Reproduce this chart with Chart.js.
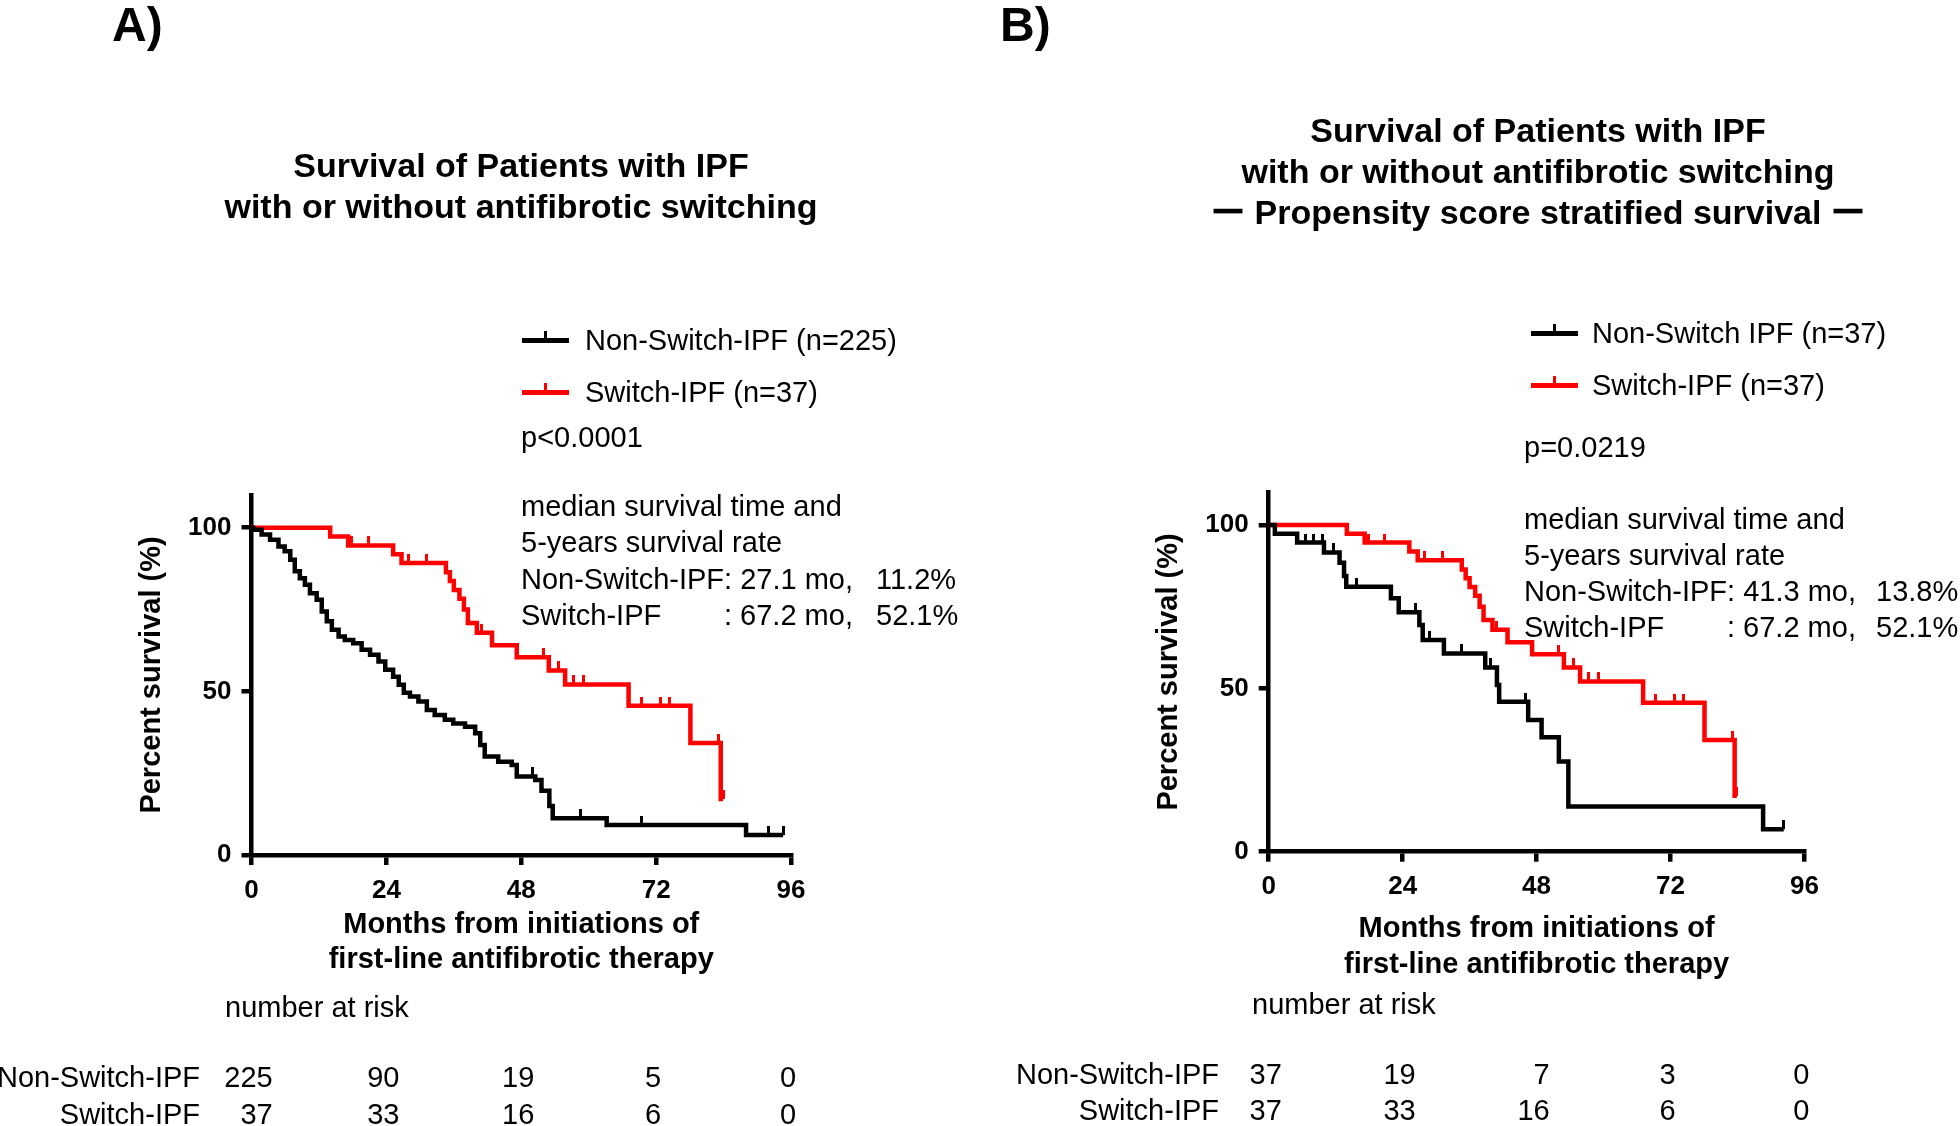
<!DOCTYPE html>
<html><head><meta charset="utf-8">
<script src="https://cdn.jsdelivr.net/npm/chart.js@4.4.1/dist/chart.umd.min.js"></script>
<style>
html,body{margin:0;padding:0;background:#fff;}
#root{position:relative;width:1960px;height:1126px;overflow:hidden;font-family:"Liberation Sans",Arial,Helvetica,sans-serif;color:#000;background:#fff;}
canvas{position:absolute;top:0;}
.t{position:absolute;white-space:pre;line-height:1.2;}
</style></head><body><div id="root">
<canvas id="cA" width="980" height="1126" style="left:0px"></canvas>
<canvas id="cB" width="980" height="1126" style="left:980px"></canvas>
</div>
<script>
// ---------- DATA ----------
const monthTicks = [0, 24, 48, 72, 96];

// Panel A: Non-Switch-IPF (n=225)
const nonSwitchA_months = [0, 0.3, 1.8, 3.3, 4.8, 5.9, 6.9, 7.7, 8.6, 9.5, 10.4, 11.6, 12.5, 13.4, 14.3, 15.5, 16.6, 18.1, 19.6, 21.1, 22.6, 23.8, 25.2, 26.2, 27.1, 28.2, 29.7, 31.2, 32.6, 34.4, 35.9, 38.0, 39.8, 40.7, 41.5, 43.9, 46.3, 47.2, 50.5, 51.6, 53.0, 53.6, 63.2, 88.0, 94.6];
const nonSwitchA_surv   = [100, 99.4, 97.9, 96.3, 94.3, 92.8, 90.2, 86.7, 84.6, 82.6, 80.0, 78.0, 74.4, 71.4, 68.8, 66.8, 65.7, 64.7, 62.7, 61.2, 59.1, 56.6, 54.5, 52.0, 49.6, 48.4, 46.9, 44.3, 42.8, 41.3, 40.2, 39.2, 37.2, 33.6, 30.1, 28.5, 27.5, 24.0, 22.9, 19.6, 15.0, 11.2, 9.2, 6.1, 6.1];
const nonSwitchA_censor = [50.0, 58.5, 69.4, 92.0, 94.6];

// Switch-IPF (n=37), same cohort in both panels
const switch_months = [0, 14.0, 17.2, 25.2, 26.7, 34.6, 35.3, 36.0, 37.0, 37.8, 38.5, 40.1, 42.8, 47.2, 52.9, 55.8, 67.1, 78.1, 83.5, 83.9];
const switch_surv   = [100, 97.3, 94.6, 91.9, 89.2, 86.4, 83.7, 81.0, 78.3, 75.0, 70.9, 67.9, 64.1, 60.4, 56.4, 52.1, 45.6, 34.2, 17.1, 17.1];
const switch_censor = [17.8, 20.8, 27.9, 31.2, 40.9, 52.0, 54.7, 57.3, 59.1, 69.4, 72.7, 74.4, 83.1, 83.9];

// Panel B: Non-Switch IPF (n=37), propensity matched
const nonSwitchB_months = [0, 1.1, 5.1, 9.9, 12.7, 13.5, 13.9, 21.9, 23.3, 27.0, 27.6, 31.4, 38.8, 40.9, 41.3, 46.5, 48.9, 52.0, 53.7, 88.6, 92.3];
const nonSwitchB_surv   = [100, 97.3, 94.6, 91.6, 88.4, 84.4, 81.1, 77.6, 73.3, 69.4, 64.8, 60.7, 56.4, 51.0, 45.9, 40.3, 35.0, 27.6, 13.8, 6.9, 6.9];
const nonSwitchB_censor = [6.6, 8.1, 9.6, 11.6, 15.8, 26.3, 28.8, 34.6, 39.7, 46.0, 92.3];

// Number at risk
const riskA_non = [225, 90, 19, 5, 0];
const riskA_switch = [37, 33, 16, 6, 0];
const riskB_non = [37, 19, 7, 3, 0];
const riskB_switch = [37, 33, 16, 6, 0];

// ---------- HELPERS ----------
const FONT = '"Liberation Sans", Arial, Helvetica, sans-serif';
const RED = '#ff0000';
const LW = 4.5;
const root = document.getElementById('root');

function txt(s, x, cy, size, opts) {
  opts = opts || {};
  const d = document.createElement('div');
  d.className = 't';
  d.textContent = s;
  d.style.fontSize = size + 'px';
  d.style.fontWeight = opts.bold ? '700' : '400';
  const lh = size * 1.2;
  d.style.top = (cy - lh / 2) + 'px';
  if (opts.align === 'center') { d.style.left = x + 'px'; d.style.transform = 'translateX(-50%)'; d.style.textAlign = 'center'; }
  else if (opts.align === 'right') { d.style.right = (1960 - x) + 'px'; d.style.textAlign = 'right'; }
  else d.style.left = x + 'px';
  root.appendChild(d);
  return d;
}
function box(x, y, w, h, color) {
  const d = document.createElement('div');
  d.style.cssText = 'position:absolute;left:' + x + 'px;top:' + y + 'px;width:' + w + 'px;height:' + h + 'px;background:' + color + ';';
  root.appendChild(d);
}
function legendSample(x1, x2, cy, color) {
  box(x1, cy - 2, x2 - x1, 4.5, color);
  box((x1 + x2) / 2 - 1.5, cy - 9, 3, 8, color);
}
function pts(t, s) { return t.map((x, i) => ({ x: x, y: s[i] })); }
function survAt(t, s, m) { let v = s[0]; for (let i = 0; i < t.length; i++) { if (t[i] <= m) v = s[i]; } return v; }
function tickImg(color) {
  const c = document.createElement('canvas'); c.width = 3; c.height = 18;
  const g = c.getContext('2d'); g.fillStyle = color; g.fillRect(0, 0, 3, 9); return c;
}

function makeChart(id, cfg) {
  const lineDs = (label, t, s, color) => ({
    label: label, data: pts(t, s), borderColor: color, backgroundColor: color, borderWidth: LW,
    stepped: true, pointRadius: 0, pointHoverRadius: 0, fill: false, borderCapStyle: 'butt', borderJoinStyle: 'miter'
  });
  const censDs = (t, s, c, color) => ({
    data: c.map(m => ({ x: m, y: survAt(t, s, m) })), showLine: false,
    pointStyle: tickImg(color), pointRadius: 3, pointHoverRadius: 3, borderColor: color, backgroundColor: color
  });
  return new Chart(document.getElementById(id), {
    type: 'line',
    data: {
      datasets: [
        lineDs(cfg.labels[0], cfg.nonT, cfg.nonS, '#000'),
        censDs(cfg.nonT, cfg.nonS, cfg.nonC, '#000'),
        lineDs(cfg.labels[1], switch_months, switch_surv, RED),
        censDs(switch_months, switch_surv, switch_censor, RED)
      ]
    },
    options: {
      responsive: false, animation: false, events: [],
      layout: { padding: { left: cfg.padL, right: cfg.padR, top: cfg.padT, bottom: cfg.padB } },
      plugins: { legend: { display: false }, tooltip: { enabled: false }, title: { display: false } },
      scales: {
        x: {
          type: 'linear', min: 0, max: 96,
          ticks: { stepSize: 24, font: { family: FONT, size: 26, weight: 'bold' }, color: '#000', padding: 10, maxRotation: 0, autoSkip: false },
          grid: { display: true, drawOnChartArea: false, drawTicks: true, tickLength: 10, tickWidth: LW, tickColor: '#000', lineWidth: LW, color: '#000' },
          border: { display: true, width: LW, color: '#000' },
          title: { display: true, text: ['Months from initiations of', 'first-line antifibrotic therapy'], font: { family: FONT, size: 29, weight: 'bold', lineHeight: cfg.xLH }, color: '#000', padding: 0 },
          afterFit: s => { s.height = cfg.xH; }
        },
        y: {
          type: 'linear', min: 0, max: 110,
          ticks: { stepSize: 50, font: { family: FONT, size: 26, weight: 'bold' }, color: '#000', padding: 10 },
          afterBuildTicks: s => { s.ticks = s.ticks.filter(t => t.value % 50 === 0); },
          grid: { display: true, drawOnChartArea: false, drawTicks: true, tickLength: 10, tickWidth: LW, tickColor: '#000', lineWidth: LW, color: '#000' },
          border: { display: true, width: LW, color: '#000' },
          title: { display: true, text: 'Percent survival (%)', font: { family: FONT, size: 29, weight: 'bold', lineHeight: 1.2 }, color: '#000', padding: 0 },
          afterFit: s => { s.width = cfg.yW; }
        }
      }
    }
  });
}

function atRisk(chart, offX, rowLabels, rowValues, labelRight, ys, headerX, headerY) {
  txt('number at risk', headerX, headerY, 29);
  const xs = chart.scales.x;
  const sp = ys[1] - ys[0];
  monthTicks.forEach((m, i) => {
    const px = offX + xs.getPixelForValue(m) - 3;
    const d = document.createElement('div');
    d.className = 't';
    d.style.fontSize = '29px';
    d.style.lineHeight = sp + 'px';
    d.style.left = px + 'px';
    d.style.top = (ys[0] - sp / 2) + 'px';
    d.style.transform = 'translateX(-50%)';
    d.style.textAlign = 'right';
    d.textContent = rowValues.map(r => String(r[i])).join('\n');
    root.appendChild(d);
  });
  rowLabels.forEach((l, j) => txt(l, labelRight, ys[j], 29, { align: 'right' }));
}

// ---------- PANEL A ----------
const chartA = makeChart('cA', {
  labels: ['Non-Switch-IPF (n=225)', 'Switch-IPF (n=37)'],
  nonT: nonSwitchA_months, nonS: nonSwitchA_surv, nonC: nonSwitchA_censor,
  padL: 134.6, yW: 116.9, padR: 189, padT: 495, padB: 148.6, xH: 122.4, xLH: 1.2
});
txt('A)', 112, 25, 48, { bold: true });
txt('Survival of Patients with IPF', 521, 165, 34, { bold: true, align: 'center' });
txt('with or without antifibrotic switching', 521, 206, 34, { bold: true, align: 'center' });
legendSample(522, 569, 340, '#000');
legendSample(522, 569, 392, RED);
txt('Non-Switch-IPF (n=225)', 585, 340, 29);
txt('Switch-IPF (n=37)', 585, 392, 29);
txt('p<0.0001', 521, 437, 29);
txt('median survival time and', 521, 506, 29);
txt('5-years survival rate', 521, 542, 29);
txt('Non-Switch-IPF: 27.1 mo,', 521, 579, 29);
txt('11.2%', 876, 579, 29);
txt('Switch-IPF', 521, 615, 29);
txt(': 67.2 mo,', 724, 615, 29);
txt('52.1%', 876, 615, 29);
atRisk(chartA, 0, ['Non-Switch-IPF', 'Switch-IPF'], [riskA_non, riskA_switch], 200, [1077.5, 1114], 225, 1007);

// ---------- PANEL B ----------
const chartB = makeChart('cB', {
  labels: ['Non-Switch IPF (n=37)', 'Switch-IPF (n=37)'],
  nonT: nonSwitchB_months, nonS: nonSwitchB_surv, nonC: nonSwitchB_censor,
  padL: 171.6, yW: 117.1, padR: 155.6, padT: 492.3, padB: 143, xH: 131.3, xLH: 1.24
});
txt('B)', 1000, 25, 48, { bold: true });
txt('Survival of Patients with IPF', 1538, 130, 34, { bold: true, align: 'center' });
txt('with or without antifibrotic switching', 1538, 171, 34, { bold: true, align: 'center' });
txt('ー Propensity score stratified survival ー', 1538, 212, 34, { bold: true, align: 'center' });
legendSample(1531, 1578, 333, '#000');
legendSample(1531, 1578, 385, RED);
txt('Non-Switch IPF (n=37)', 1592, 333, 29);
txt('Switch-IPF (n=37)', 1592, 385, 29);
txt('p=0.0219', 1524, 447, 29);
txt('median survival time and', 1524, 519, 29);
txt('5-years survival rate', 1524, 555, 29);
txt('Non-Switch-IPF: 41.3 mo,', 1524, 591, 29);
txt('13.8%', 1876, 591, 29);
txt('Switch-IPF', 1524, 627.5, 29);
txt(': 67.2 mo,', 1727, 627.5, 29);
txt('52.1%', 1876, 627.5, 29);
atRisk(chartB, 980, ['Non-Switch-IPF', 'Switch-IPF'], [riskB_non, riskB_switch], 1219, [1074, 1110], 1252, 1004);
</script>
</body></html>
